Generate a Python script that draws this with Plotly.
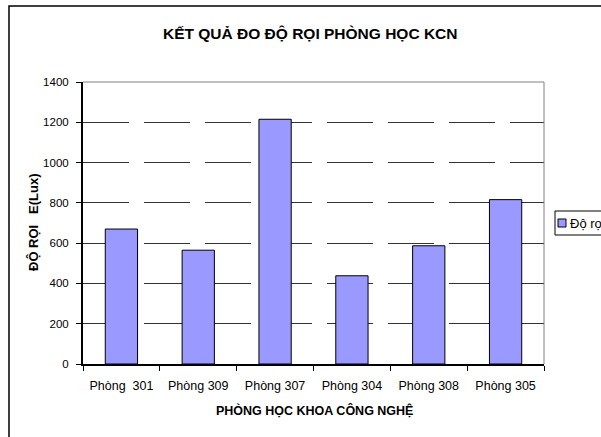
import plotly.graph_objects as go

# Illuminance measurements per classroom
rooms = ["Phòng\u00a0\u00a0301", "Phòng 309", "Phòng 307", "Phòng 304", "Phòng 308", "Phòng 305"]
lux = [670, 565, 1215, 438, 587, 816]
series_name = "Độ rọi"
y_ticks = [0, 200, 400, 600, 800, 1000, 1200, 1400]

W, H = 601, 437
L, R, T, B = 83, 544, 82, 364  # plot area in pixels
pw, ph = R - L, B - T

def px(x):
    return (x - L) / pw

def py(y):
    return (B - y) / ph

font = "Liberation Sans, Arial, sans-serif"
bar_color = "#9999FF"

fig = go.Figure()
fig.add_trace(go.Bar(
    x=rooms, y=lux, name=series_name,
    marker=dict(color=bar_color, line=dict(color="#000000", width=1)),
    showlegend=False,
))

fig.update_layout(
    width=W, height=H,
    margin=dict(l=L, r=W - R, t=T, b=H - B, pad=0, autoexpand=False),
    paper_bgcolor="white", plot_bgcolor="white",
    font=dict(family=font, size=11, color="black"),
    bargap=0.58,
    showlegend=False,
    xaxis=dict(
        type="category", tickson="boundaries",
        showline=True, linecolor="black", linewidth=2,
        ticks="outside", ticklen=5, tickcolor="black", tickwidth=1,
        ticklabelstandoff=9,
        showgrid=False, zeroline=False,
        tickfont=dict(size=12.5, family=font),
    ),
    yaxis=dict(
        range=[0, 1400], tickvals=y_ticks,
        showline=True, linecolor="black", linewidth=2,
        ticks="outside", ticklen=5, tickcolor="black", tickwidth=1,
        ticklabelstandoff=5,
        showgrid=True, gridcolor="#333333", gridwidth=1, griddash="46px,15px",
        zeroline=False,
        tickfont=dict(size=11.5, family=font),
    ),
    shapes=[
        # plot-area frame on top and right
        dict(type="line", xref="x domain", yref="y domain", x0=0, x1=1, y0=1, y1=1,
             line=dict(color="#808080", width=1)),
        dict(type="line", xref="x domain", yref="y domain", x0=1, x1=1, y0=0, y1=1,
             line=dict(color="#808080", width=1)),
        # chart-area border
        dict(type="rect", xref="paper", yref="paper",
             x0=px(9), x1=px(640), y0=py(470), y1=py(6),
             line=dict(color="black", width=1.5), layer="below"),
        # legend box and key
        dict(type="rect", xref="paper", yref="paper",
             x0=px(555), x1=px(660), y0=py(235), y1=py(211),
             line=dict(color="black", width=1), fillcolor="white"),
        dict(type="rect", xref="paper", yref="paper",
             x0=px(558), x1=px(566), y0=py(227), y1=py(219),
             line=dict(color="black", width=1), fillcolor=bar_color),
    ],
    annotations=[
        dict(text="<b>KẾT QUẢ ĐO ĐỘ RỌI PHÒNG HỌC KCN</b>", xref="paper", yref="paper",
             x=px(310), y=py(33), showarrow=False, xanchor="center", yanchor="middle",
             font=dict(size=15.5, family=font)),
        dict(text="<b>PHÒNG HỌC KHOA CÔNG NGHỆ</b>", xref="paper", yref="paper",
             x=px(314), y=py(410), showarrow=False, xanchor="center", yanchor="middle",
             font=dict(size=12.5, family=font)),
        dict(text="<b>ĐỘ RỌI\u00a0\u00a0\u00a0E(Lux)</b>", xref="paper", yref="paper",
             x=px(33), y=py(222), showarrow=False, xanchor="center", yanchor="middle",
             textangle=-90, font=dict(size=13, family=font)),
        dict(text=series_name, xref="paper", yref="paper",
             x=px(568), y=py(223), showarrow=False, xanchor="left", yanchor="middle",
             font=dict(size=13, family=font)),
    ],
)

fig.write_html("out.html")
